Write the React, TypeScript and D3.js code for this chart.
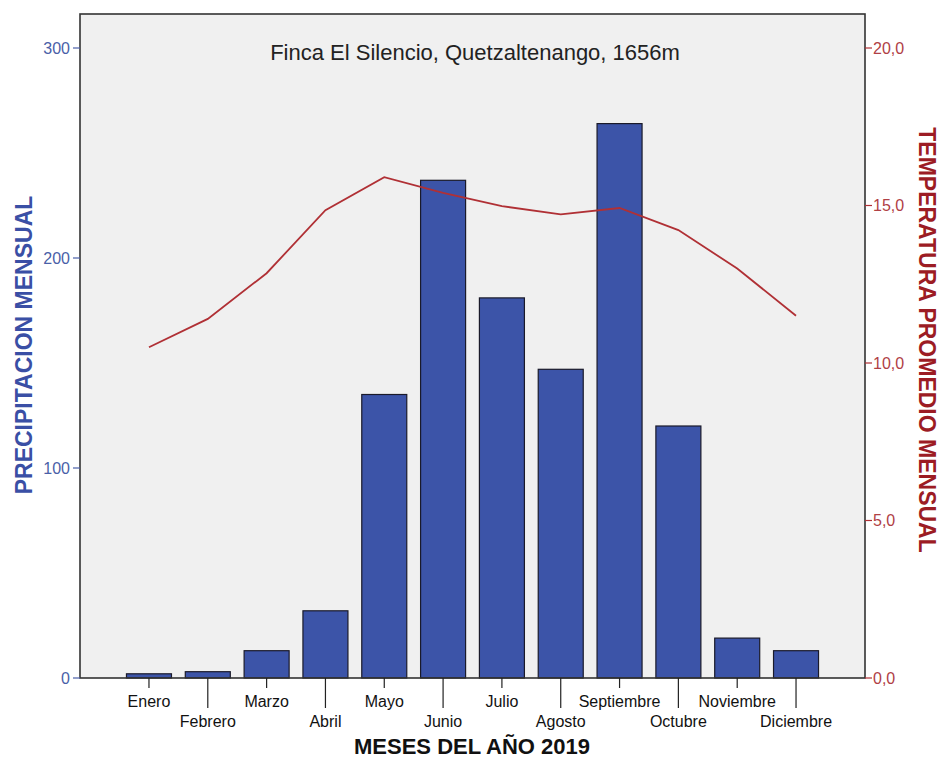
import React from "react";
import * as d3 from "d3";

const months = ["Enero","Febrero","Marzo","Abril","Mayo","Junio","Julio","Agosto","Septiembre","Octubre","Noviembre","Diciembre"];
const precipitation = [2, 3, 13, 32, 135, 237, 181, 147, 264, 120, 19, 13];
const temperature = [10.5, 11.4, 12.85, 14.85, 15.9, 15.4, 14.98, 14.72, 14.92, 14.22, 13.0, 11.5];
const precipTicks = [0, 100, 200, 300];
const tempTicks = [0, 5, 10, 15, 20];

const W = 941, H = 760;
const L = 80, R = 865, T = 14, B = 678;

export default function App() {
  const x = d3.scaleBand<string>().domain(months).range([L, R]).paddingInner(0.235).paddingOuter(0.79);
  const yP = d3.scaleLinear().domain([0, 300]).range([B, 48]);
  const yT = d3.scaleLinear().domain([0, 20]).range([B, 48]);
  const line = d3.line<number>()
    .x((_, i) => (x(months[i]) as number) + x.bandwidth() / 2)
    .y((d) => yT(d));
  const font = "Arial, 'Liberation Sans', sans-serif";
  const fmt = (v: number) => v.toFixed(1).replace(".", ",");
  return (
    <svg width={W} height={H} style={{ position: "absolute", left: 0, top: 0 }} fontFamily={font}>
      <rect x={0} y={0} width={W} height={H} fill="#fff" />
      <rect x={L} y={T} width={R - L} height={B - T} fill="#f0f0f0" />
      {precipitation.map((v, i) => (
        <rect key={i} x={x(months[i])} y={yP(v)} width={x.bandwidth()} height={B - yP(v)}
          fill="#3c54a8" stroke="#1a1a2a" strokeWidth={1.2} />
      ))}
      <path d={line(temperature) || ""} fill="none" stroke="#b03035" strokeWidth={1.8} />
      <rect x={L} y={T} width={R - L} height={B - T} fill="none" stroke="#333" strokeWidth={1.6} />
      {precipTicks.map((t) => (
        <g key={t}>
          <line x1={L - 7} x2={L} y1={yP(t)} y2={yP(t)} stroke="#4a5fa8" strokeWidth={1.2} />
          <text x={L - 10} y={yP(t)} dy="0.35em" textAnchor="end" fontSize={16} fill="#4a5fa8">{t}</text>
        </g>
      ))}
      {tempTicks.map((t) => (
        <g key={t}>
          <line x1={R} x2={R + 7} y1={yT(t)} y2={yT(t)} stroke="#b03035" strokeWidth={1.2} />
          <text x={R + 8} y={yT(t)} dy="0.35em" textAnchor="start" fontSize={16} fill="#b04045">{fmt(t)}</text>
        </g>
      ))}
      {months.map((m, i) => {
        const cx = (x(m) as number) + x.bandwidth() / 2;
        const low = i % 2 === 1;
        return (
          <g key={m}>
            <line x1={cx} x2={cx} y1={B} y2={low ? 708 : 688} stroke="#222" strokeWidth={1.2} />
            <text x={cx} y={low ? 727 : 707} textAnchor="middle" fontSize={16} fill="#111">{m}</text>
          </g>
        );
      })}
      <text x={475} y={60} textAnchor="middle" fontSize={22} fill="#222">Finca El Silencio, Quetzaltenango, 1656m</text>
      <text x={472} y={754} textAnchor="middle" fontSize={22} fontWeight="bold" fill="#111">MESES DEL AÑO 2019</text>
      <text transform={`translate(32,345) rotate(-90)`} textAnchor="middle" fontSize={23} fontWeight="bold" fill="#3a4fa5">PRECIPITACION MENSUAL</text>
      <text transform={`translate(919,340) rotate(90)`} textAnchor="middle" fontSize={23} fontWeight="bold" fill="#9c1c24">TEMPERATURA PROMEDIO MENSUAL</text>
    </svg>
  );
}
